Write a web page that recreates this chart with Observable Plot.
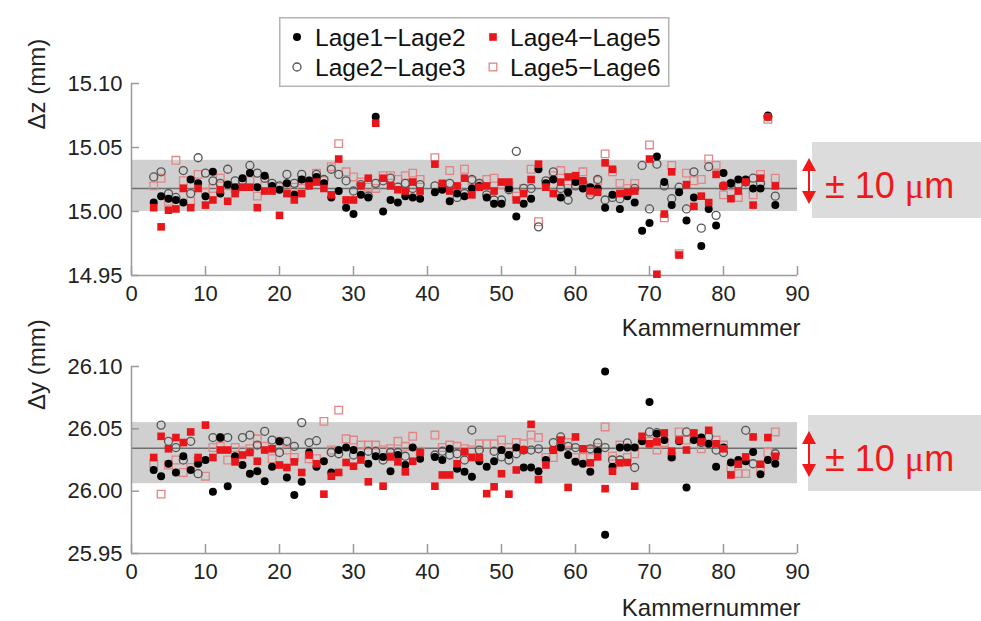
<!DOCTYPE html>
<html><head><meta charset="utf-8">
<script src="https://cdn.jsdelivr.net/npm/d3@7"></script>
<script src="https://cdn.jsdelivr.net/npm/@observablehq/plot@0.6"></script>
<style>
body{margin:0;background:#fff;}
#wrap{position:relative;width:981px;height:621px;overflow:hidden;background:#fff;font-family:'Liberation Sans',Arial,sans-serif;}
#top,#bot{position:absolute;left:0;}
#top{top:0;} #bot{top:340px;}
.abs{position:absolute;}
</style></head><body>
<div id="wrap"><div id="top"></div><div id="bot"></div></div>
<script>
// ---------- data ----------
const serien = ["Lage1\u2212Lage2", "Lage2\u2212Lage3", "Lage4\u2212Lage5", "Lage5\u2212Lage6"];
const kammer = [3,4,5,6,7,8,9,
  10,11,12,13,14,15,16,17,18,19,
  20,21,22,23,24,25,26,27,28,29,
  30,31,32,33,34,35,36,37,38,39,
  41,42,43,44,45,46,47,48,49,
  50,51,52,53,54,55,56,57,58,59,
  60,61,62,63,64,65,66,67,68,69,
  70,71,72,73,74,75,76,77,78,79,
  80,81,82,83,84,85,86,87];
const xTicks = [0,10,20,30,40,50,60,70,80,90];
const xDomain = [0, 90];
const xLabel = "Kammernummer";

// top panel: Δz
const zTicks = [14.95, 15.00, 15.05, 15.10];
const zBand = [15.000, 15.040];
const zMittel = 15.018;
const z12 = [15.007,15.012,15.010,15.009,15.007,15.025,15.022,
  15.012,15.031,15.014,15.021,15.019,15.026,15.030,15.019,15.028,15.020,
  15.017,15.022,15.013,15.025,15.024,15.027,15.022,15.011,15.016,15.003,
  14.998,15.013,15.011,15.074,15.000,15.009,15.007,15.012,15.011,15.010,
  15.015,15.017,15.008,15.014,15.012,15.018,15.020,15.011,15.006,
  15.006,15.018,14.996,15.006,15.010,15.033,15.022,15.025,15.011,15.015,
  15.023,15.018,15.019,15.018,15.003,15.013,15.002,15.012,15.007,14.985,
  14.991,15.043,15.023,15.005,15.015,14.993,15.011,14.973,15.002,14.989,
  15.030,15.022,15.025,15.025,15.018,15.018,15.075,15.005];
const z23 = [15.027,15.031,15.014,15.011,15.032,15.014,15.042,
  15.030,15.024,15.022,15.033,15.024,15.024,15.036,15.030,15.026,15.022,
  15.020,15.029,15.022,15.029,15.024,15.029,15.025,15.033,15.029,15.024,
  15.016,15.021,15.012,15.022,15.024,15.026,15.019,15.022,15.018,15.021,
  15.020,15.018,15.022,15.011,15.014,15.025,15.022,15.013,15.009,
  15.009,15.017,15.047,15.018,15.018,14.988,15.024,15.031,15.018,15.009,
  15.020,15.022,15.013,15.025,15.009,15.011,15.010,15.014,15.018,15.036,
  15.002,15.037,15.020,15.010,15.019,15.002,15.031,14.987,15.035,14.997,
  15.020,15.022,15.021,15.023,15.026,15.022,15.074,15.012];
const z45 = [15.003,14.988,15.001,15.002,15.018,15.003,15.018,
  15.005,15.009,15.017,15.008,15.014,15.019,15.019,15.003,15.016,15.016,
  14.997,15.014,15.009,15.014,15.020,15.023,15.018,15.013,15.041,15.009,
  15.009,15.020,15.026,15.069,15.026,15.020,15.017,15.016,15.023,15.016,
  15.037,15.022,15.016,15.020,15.026,15.013,15.019,15.020,15.016,
  15.023,15.023,15.009,15.014,15.025,15.037,15.019,15.014,15.023,15.027,
  15.028,15.024,15.016,15.015,15.038,15.033,15.014,15.015,15.016,null,
  15.041,14.951,14.998,15.031,14.966,15.021,15.004,15.012,15.007,15.029,
  15.020,15.010,15.016,15.023,15.005,15.026,15.074,15.020];
const z56 = [15.020,15.026,15.008,15.040,15.024,15.008,15.029,
  15.015,15.018,15.026,15.020,15.018,15.022,15.024,15.012,15.020,15.018,
  15.019,15.020,15.019,15.024,15.023,15.030,15.024,15.035,15.053,15.031,
  15.027,15.023,15.019,15.018,15.028,15.028,15.025,15.028,15.030,15.025,
  15.042,15.020,15.032,15.018,15.033,15.024,15.021,15.025,15.026,
  15.021,15.020,15.012,15.018,15.033,14.992,15.020,15.028,15.032,15.018,
  15.025,15.031,15.015,15.024,15.045,15.031,15.022,15.018,15.022,null,
  15.052,null,14.995,15.036,14.967,15.030,15.024,15.025,15.041,15.036,
  15.013,15.020,15.011,null,15.013,15.029,15.072,15.026];

// bottom panel: Δy
const yTicksB = [25.95, 26.00, 26.05, 26.10];
const yBand = [26.006, 26.055];
const yMittel = 26.0345;
const y12 = [26.017,26.012,26.022,26.015,26.028,26.017,26.022,
  26.025,25.9995,26.043,26.004,26.028,26.021,26.014,26.016,26.008,26.0195,
  26.040,26.011,25.997,26.0075,26.031,26.0195,26.024,26.015,26.033,26.035,
  26.033,26.029,26.022,26.028,26.0275,26.016,26.029,26.021,26.035,26.026,
  26.0275,26.025,26.034,26.018,26.0155,26.0115,26.024,26.0195,26.024,
  26.033,26.029,26.035,26.019,26.019,26.016,26.025,26.033,26.035,26.029,
  26.0235,26.022,26.0155,26.032,26.096,26.0195,26.035,26.035,26.035,26.040,
  26.0715,26.046,26.041,26.027,26.040,26.003,26.041,26.043,26.038,26.0195,
  26.035,26.023,26.025,26.024,26.0315,26.0136,26.025,26.022];
const y12ExtraKammer = [64];
const y12ExtraWert = [25.965];
const y23 = [null,26.053,26.040,26.035,26.025,26.040,26.014,
  null,26.043,26.043,26.043,null,26.043,26.045,26.037,26.048,26.041,
  26.031,26.040,26.036,26.055,26.039,26.0405,null,26.031,26.030,null,
  26.029,null,26.032,26.032,26.025,26.031,26.031,26.028,null,null,
  26.029,26.032,26.029,26.030,26.025,26.049,26.033,null,26.032,
  26.0275,26.025,26.030,26.033,26.033,26.034,null,26.039,26.0435,26.036,
  26.035,null,26.034,26.0387,26.035,26.025,26.025,26.0387,26.019,null,
  26.0475,26.047,null,null,null,26.0475,null,26.039,26.0437,26.033,
  26.031,null,null,26.0488,26.022,null,null,26.030];
const y45 = [26.027,26.044,26.034,26.043,26.039,26.0475,26.027,
  26.053,26.027,26.033,26.033,26.0235,26.029,26.031,26.024,26.033,26.034,
  26.021,26.019,26.0235,26.015,26.029,26.022,25.9976,26.012,26.015,26.023,
  26.020,26.025,26.0075,null,26.004,26.0275,26.0235,26.0155,26.024,26.031,
  26.004,26.013,26.013,26.022,26.0315,26.027,26.027,25.998,26.0035,
  26.014,25.9976,26.017,26.033,26.0536,26.0093,26.021,26.033,26.041,26.003,
  26.0435,26.034,26.0227,26.0275,26.002,26.016,26.0227,26.023,26.004,26.044,
  26.038,26.0395,26.0467,26.032,26.041,26.033,26.0467,26.0395,26.0488,26.038,
  26.034,26.013,26.0216,26.0275,26.0435,26.0216,26.043,26.028];
const y56 = [26.022,25.9976,26.021,26.025,26.015,26.019,26.024,
  26.012,26.035,26.036,26.025,26.035,26.032,26.034,26.042,26.036,26.026,
  26.040,26.033,26.027,null,26.026,26.026,26.056,26.033,26.065,26.042,
  26.041,26.037,26.037,26.037,26.033,26.034,26.040,26.036,26.044,26.032,
  26.045,26.035,26.037,26.036,26.034,26.033,26.038,26.038,26.038,
  26.041,26.035,26.039,26.038,26.045,26.043,26.027,26.027,26.036,26.039,
  26.027,26.027,26.033,26.035,26.0515,26.028,26.037,26.027,26.030,26.038,
  26.040,26.033,26.039,26.028,26.0475,26.041,26.042,26.034,null,26.041,
  26.037,26.019,26.0141,26.0141,null,26.018,26.031,26.0475];

// ---------- styles ----------
const FONT = "'Liberation Sans', Arial, Helvetica, sans-serif";
const axisGrey = "#9a9a9a";
const rot = "#e8161b";
const rosa = "#e38585";
const grau = "#555555";
const annoRot = "#f01818";
const stile = [
  {symbol: "circle", fill: "#000", stroke: "none", r: 4},
  {symbol: "circle", fill: "none", stroke: grau, r: 4},
  {symbol: "square", fill: rot, stroke: "none", r: 4.3},
  {symbol: "square", fill: "none", stroke: rosa, r: 4.3}
];

function rows(vals, ks = kammer) {
  return ks.map((k, i) => ({k, v: vals[i]})).filter(d => d.v != null);
}
function dots(data, s) {
  return Plot.dot(data, {x: "k", y: "v", symbol: s.symbol, r: s.r, fill: s.fill,
    stroke: s.stroke, strokeWidth: s.stroke === "none" ? 0 : 1.3});
}

function panel(el, cfg) {
  const W = 981, mL = 131, mR = 184;
  const plotW = W - mL - mR;
  const plotH = cfg.height - cfg.marginTop - cfg.marginBottom;
  const p = Plot.plot({
    width: W, height: cfg.height,
    marginTop: cfg.marginTop, marginBottom: cfg.marginBottom, marginLeft: mL, marginRight: mR,
    style: {fontFamily: FONT, fontSize: "22px", background: "transparent", color: "#222", overflow: "visible"},
    x: {domain: xDomain},
    y: {domain: [cfg.yTicks[0], cfg.yTicks[cfg.yTicks.length - 1]]},
    marks: [
      Plot.rect([cfg.band], {x1: () => xDomain[0], x2: () => xDomain[1], y1: d => d[0], y2: d => d[1], fill: "#d0d0d0"}),
      Plot.ruleY([cfg.mean], {stroke: "#6e6e6e", strokeWidth: 1.5}),
      Plot.ruleX([xDomain[0]], {stroke: axisGrey, strokeWidth: 1.5}),
      Plot.ruleY([cfg.yTicks[0]], {stroke: axisGrey, strokeWidth: 1.5}),
      Plot.tickY(cfg.yTicks, {y: d => d, insetRight: plotW - 8, stroke: axisGrey, strokeWidth: 1.5}),
      Plot.tickX(xTicks, {x: d => d, insetTop: plotH - 9, stroke: axisGrey, strokeWidth: 1.5}),
      Plot.axisY({ticks: cfg.yTicks, tickSize: 0, tickPadding: 9, tickFormat: d3.format(".2f"), label: null, fontSize: 22, fill: "#222"}),
      Plot.axisX({ticks: xTicks, tickSize: 0, tickPadding: 10, tickFormat: d => String(d), label: null, fontSize: 22, fill: "#222"}),
      dots(rows(cfg.s56), stile[3]),
      dots(rows(cfg.s23), stile[1]),
      dots(rows(cfg.s12), stile[0]),
      ...(cfg.extra ? [dots(cfg.extra, stile[0])] : []),
      dots(rows(cfg.s45), stile[2]),
      Plot.text([cfg.yLabel], {text: d => d, frameAnchor: "left", rotate: -90, dx: -94, dy: cfg.yLabelDy, fontSize: 24, fill: "#222"}),
      Plot.text([xLabel], {text: d => d, frameAnchor: "bottom-right", textAnchor: "end", lineAnchor: "middle", dx: 3, dy: cfg.xLabelDy, fontSize: 24, fill: "#222"})
    ]
  });
  el.appendChild(p);
}

panel(document.getElementById("top"), {
  height: 340, marginTop: 83, marginBottom: 65,
  yTicks: zTicks, band: zBand, mean: zMittel,
  s12: z12, s23: z23, s45: z45, s56: z56,
  yLabel: "\u0394z (mm)", yLabelDy: -50, xLabelDy: 53
});
panel(document.getElementById("bot"), {
  height: 281, marginTop: 26, marginBottom: 68,
  yTicks: yTicksB, band: yBand, mean: yMittel,
  s12: y12, s23: y23, s45: y45, s56: y56,
  extra: rows(y12ExtraWert, y12ExtraKammer),
  yLabel: "\u0394y (mm)", yLabelDy: -50, xLabelDy: 55
});

// ---------- legend ----------
const wrap = document.getElementById("wrap");
const legPos = [{mx: 18, tx: 36, y: 20}, {mx: 18, tx: 36, y: 50}, {mx: 214, tx: 231, y: 20}, {mx: 214, tx: 231, y: 50}];
let leg = `<svg class="abs" style="left:279px;top:17px" width="392" height="71" font-family="${FONT}">
<rect x="0.75" y="0.75" width="389" height="68.5" fill="#fff" stroke="#b4b4b4" stroke-width="1.5"/>`;
serien.forEach((name, i) => {
  const s = stile[i], p = legPos[i];
  const sw = s.stroke === "none" ? 0 : 1.3;
  if (s.symbol === "circle") {
    leg += `<circle cx="${p.mx}" cy="${p.y}" r="${s.r}" fill="${s.fill}" stroke="${s.stroke}" stroke-width="${sw}"/>`;
  } else {
    const a = s.r * Math.sqrt(Math.PI);
    leg += `<rect x="${p.mx - a / 2}" y="${p.y - a / 2}" width="${a}" height="${a}" fill="${s.fill}" stroke="${s.stroke}" stroke-width="${sw}"/>`;
  }
  leg += `<text x="${p.tx}" y="${p.y}" dy="0.35em" font-size="24.5" fill="#111">${name}</text>`;
});
leg += `</svg>`;
wrap.insertAdjacentHTML("beforeend", leg);

// ---------- ±10 µm annotations ----------
function anno(left, top, boxLeft) {
  const svg = `<svg class="abs" style="left:${left}px;top:${top}px" width="${981 - left}" height="100" font-family="${FONT}">
<rect x="${boxLeft}" y="12" width="${981 - left - boxLeft}" height="76" fill="#dcdcdc"/>
<line x1="9" y1="36" x2="9" y2="66" stroke="${annoRot}" stroke-width="2"/>
<path d="M9,28 L2,41 L16,41 Z" fill="${annoRot}"/>
<path d="M9,74 L2,61 L16,61 Z" fill="${annoRot}"/>
<text x="25" y="55" dy="0.35em" font-size="36" fill="${annoRot}">\u00b1 10 <tspan font-family="'Liberation Serif','DejaVu Serif',serif">\u03bc</tspan>m</text>
</svg>`;
  wrap.insertAdjacentHTML("beforeend", svg);
}
anno(800, 130, 12);
anno(800, 403, 8);
</script>
</body></html>
